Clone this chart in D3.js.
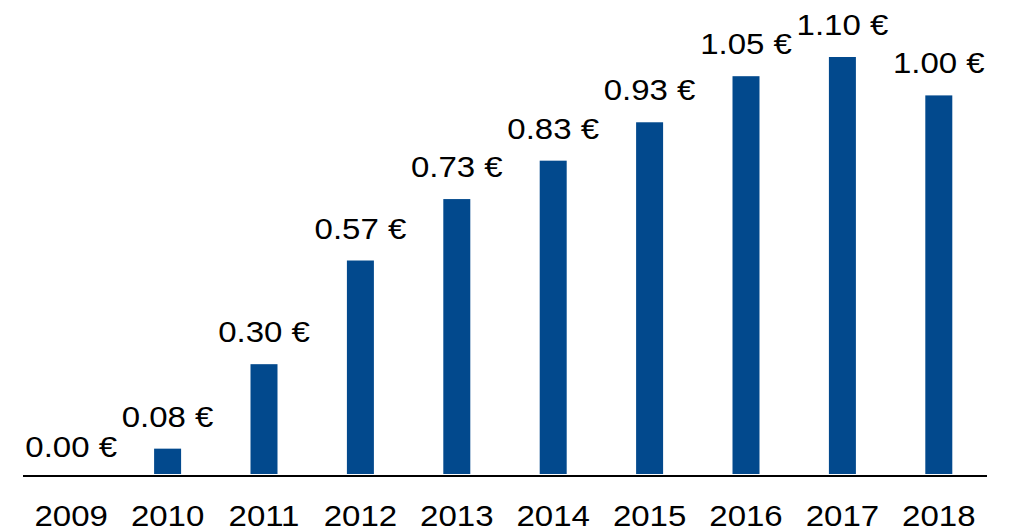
<!DOCTYPE html>
<html>
<head>
<meta charset="utf-8">
<script src="https://cdn.jsdelivr.net/npm/d3@7"></script>
<style>
  body { margin: 0; background: #fff; }
  text { font-family: Arial, "Liberation Sans", sans-serif; fill: #000; }
</style>
</head>
<body>
<div id="chart"></div>
<script>
const years = ["2009", "2010", "2011", "2012", "2013", "2014", "2015", "2016", "2017", "2018"];
const dividends = [0.00, 0.08, 0.30, 0.57, 0.73, 0.83, 0.93, 1.05, 1.10, 1.00];

const width = 1012;
const height = 531;

const svg = d3.select("#chart")
    .append("svg")
    .attr("width", width)
    .attr("height", height);

const x = d3.scaleBand()
    .domain(years)
    .range([23, 987])
    .paddingInner(0.72)
    .paddingOuter(0.36);

// value axis does not start exactly at zero in the original
const y = d3.scaleLinear()
    .domain([0.014, 1.10])
    .range([474, 57]);

const fmt = d => d.toFixed(2) + " €";

// bars
svg.append("g")
    .selectAll("rect")
    .data(dividends)
    .enter()
    .append("rect")
    .attr("x", (d, i) => x(years[i]))
    .attr("width", x.bandwidth())
    .attr("y", d => Math.min(y(d), 474))
    .attr("height", d => Math.max(0, 474 - y(d)))
    .attr("fill", "#02498d");

// baseline
svg.append("line")
    .attr("x1", 23)
    .attr("x2", 987)
    .attr("y1", 476)
    .attr("y2", 476)
    .attr("stroke", "#000")
    .attr("stroke-width", 2);

// value labels
svg.append("g")
    .selectAll("text")
    .data(dividends)
    .enter()
    .append("text")
    .attr("transform", (d, i) => "translate(" + (x(years[i]) + x.bandwidth() / 2) + "," + (y(d) - 22) + ") scale(1.1,1)")
    .attr("text-anchor", "middle")
    .style("font-size", "30px")
    .text(fmt);

// year labels
svg.append("g")
    .selectAll("text")
    .data(years)
    .enter()
    .append("text")
    .attr("transform", d => "translate(" + (x(d) + x.bandwidth() / 2) + ",526) scale(1.1,1)")
    .attr("text-anchor", "middle")
    .style("font-size", "30px")
    .text(d => d);
</script>
</body>
</html>
